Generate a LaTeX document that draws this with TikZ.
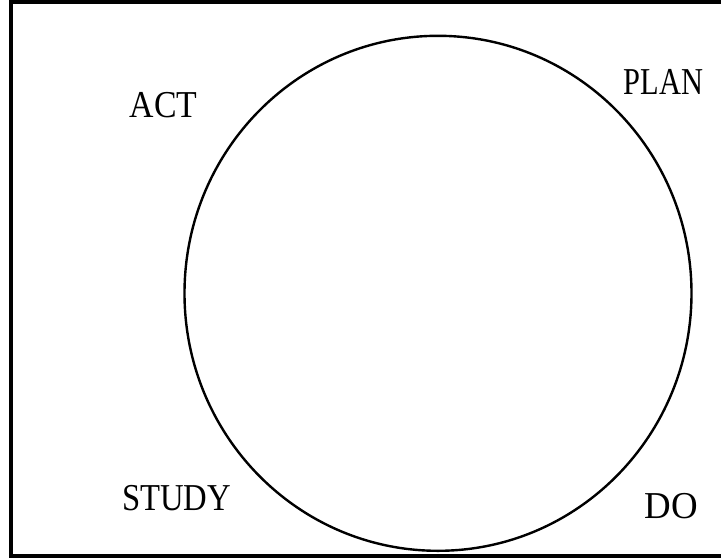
\documentclass[tikz,border=0pt]{standalone}
\usepackage{fontspec}
\setmainfont{Liberation Serif}
\begin{document}
\begin{tikzpicture}[x=1pt,y=-1pt,
  lbl/.style={font=\fontsize{38}{42}\selectfont, inner sep=0pt, anchor=center},
  frame/.style={line width=4pt},
  ring/.style={line width=2.4pt}]
\useasboundingbox (0,0) rectangle (721,558);
\fill[white] (0,0) rectangle (721,558);
\draw[frame] (730,2) -- (11,2) -- (11,556) -- (730,556);
\draw[ring] (438,293.3) ellipse [x radius=253.5, y radius=257.5];
\node[lbl, xscale=0.89] (act) at (163.5,105.5) {ACT};
\node[lbl, xscale=0.80] (plan) at (663.5,81.5) {PLAN};
\node[lbl, xscale=0.86] (study) at (176.5,498) {STUDY};
\node[lbl, xscale=0.97] (do) at (671.5,506) {DO};
\end{tikzpicture}
\end{document}
